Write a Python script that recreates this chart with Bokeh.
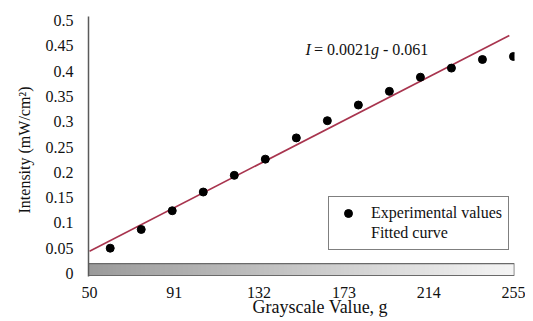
import numpy as np
from bokeh.plotting import figure
from bokeh.models import Range1d, FixedTicker, Label, Legend, Title
from bokeh.embed import file_html
from bokeh.resources import INLINE

# ---- data ----
grayscale = [60, 75, 90, 105, 120, 135, 150, 165, 180, 195, 210, 225, 240, 255]
intensity = [0.050, 0.087, 0.124, 0.161, 0.194, 0.226, 0.268, 0.302, 0.333,
             0.360, 0.388, 0.406, 0.423, 0.429]
fit_slope = 0.0021
fit_intercept = -0.061
fit_x = [50, 253]
x_ticks = [50, 91, 132, 173, 214, 255]
y_ticks = [0, 0.05, 0.1, 0.15, 0.2, 0.25, 0.3, 0.35, 0.4, 0.45, 0.5]
y_tick_labels = ["0", "0.05", "0.1", "0.15", "0.2", "0.25", "0.3", "0.35", "0.4", "0.45", "0.5"]
bar_gray_range = [155, 245]  # left / right gray level of the grayscale strip

FONT = "Liberation Serif"
FS = "16px"

p = figure(width=525, height=321, output_backend="svg", toolbar_location=None,
           x_range=Range1d(49.5, 255.5), y_range=Range1d(-0.006, 0.508),
           min_border_left=88, min_border_right=11, min_border_top=16, min_border_bottom=45)
p.outline_line_color = None
p.grid.visible = False
p.background_fill_color = "white"
p.border_fill_color = "white"

# grayscale strip
N = 256
img = np.empty((1, N), dtype=np.uint32)
view = img.view(dtype=np.uint8).reshape((1, N, 4))
g = np.linspace(bar_gray_range[0], bar_gray_range[1], N).astype(np.uint8)
view[0, :, 0] = g
view[0, :, 1] = g
view[0, :, 2] = g
view[0, :, 3] = 255
p.image_rgba(image=[img], x=49.2, y=-0.004, dw=206.2, dh=0.0235)
p.quad(left=[49.2], right=[255.4], bottom=[-0.004], top=[0.0195],
       fill_color=None, line_color="#6a6a6a", line_width=1.2)

# fitted line
fit_y = [fit_slope * x + fit_intercept for x in fit_x]
p.line(fit_x, fit_y, line_color="#a8344e", line_width=1.6)

# points
r_pts = p.scatter(grayscale, intensity, size=8, marker="circle", fill_color="black", line_color="black")
r_leg_line = p.line([], [], line_color="#e8202a", line_width=1.5)

legend = Legend(items=[("Experimental values", [r_pts]), ("Fitted curve", [r_leg_line])],
                location=(240, 26))
legend.label_text_font = FONT
legend.label_text_font_size = FS
legend.label_text_color = "#111111"
legend.border_line_color = "black"
legend.border_line_width = 1.5
legend.padding = 6
legend.margin = 0
legend.spacing = 0
legend.glyph_width = 26
legend.glyph_height = 20
legend.label_height = 20
legend.label_standoff = 10
legend.background_fill_alpha = 1
p.add_layout(legend)

# axes
p.xaxis.ticker = FixedTicker(ticks=x_ticks)
p.xaxis.axis_line_color = None
p.xaxis.major_tick_line_color = None
p.xaxis.minor_tick_line_color = None
p.xaxis.major_tick_out = 0
p.xaxis.major_label_standoff = 10
p.xaxis.major_label_text_font = FONT
p.xaxis.major_label_text_font_size = FS
p.xaxis.major_label_text_color = "#111111"

p.yaxis.ticker = FixedTicker(ticks=y_ticks)
p.yaxis.major_label_overrides = {t: s for t, s in zip(y_ticks, y_tick_labels)}
p.yaxis.axis_line_color = "#5a5a5a"
p.yaxis.axis_line_width = 1.5
p.yaxis.major_tick_line_color = None
p.yaxis.minor_tick_line_color = None
p.yaxis.major_tick_out = 0
p.yaxis.major_label_standoff = 15
p.yaxis.major_label_text_font = FONT
p.yaxis.major_label_text_font_size = FS
p.yaxis.major_label_text_color = "#111111"

# axis titles
xtitle = Title(text="Grayscale Value, g", align="left", offset=164, standoff=-12,
               text_font=FONT, text_font_size="18px", text_font_style="normal", text_color="#111111")
p.add_layout(xtitle, "below")
ytitle = Title(text="Intensity (mW/cm²)", align="right", offset=70, standoff=20,
               text_font=FONT, text_font_size=FS, text_font_style="normal", text_color="#111111")
p.add_layout(ytitle, "left")

# equation
eq_x, eq_y = 154.4, 0.443
parts = [("I", "italic", 0), ("= 0.0021", "normal", 8.5), ("g", "italic", 65.5), ("- 0.061", "normal", 77.5)]
for txt, style, off in parts:
    p.add_layout(Label(x=eq_x, y=eq_y, x_offset=off, text=txt, text_font=FONT,
                       text_font_style=style, text_font_size=FS, text_align="left",
                       text_baseline="middle", text_color="#111111"))

open("out.html", "w").write(file_html(p, INLINE))
